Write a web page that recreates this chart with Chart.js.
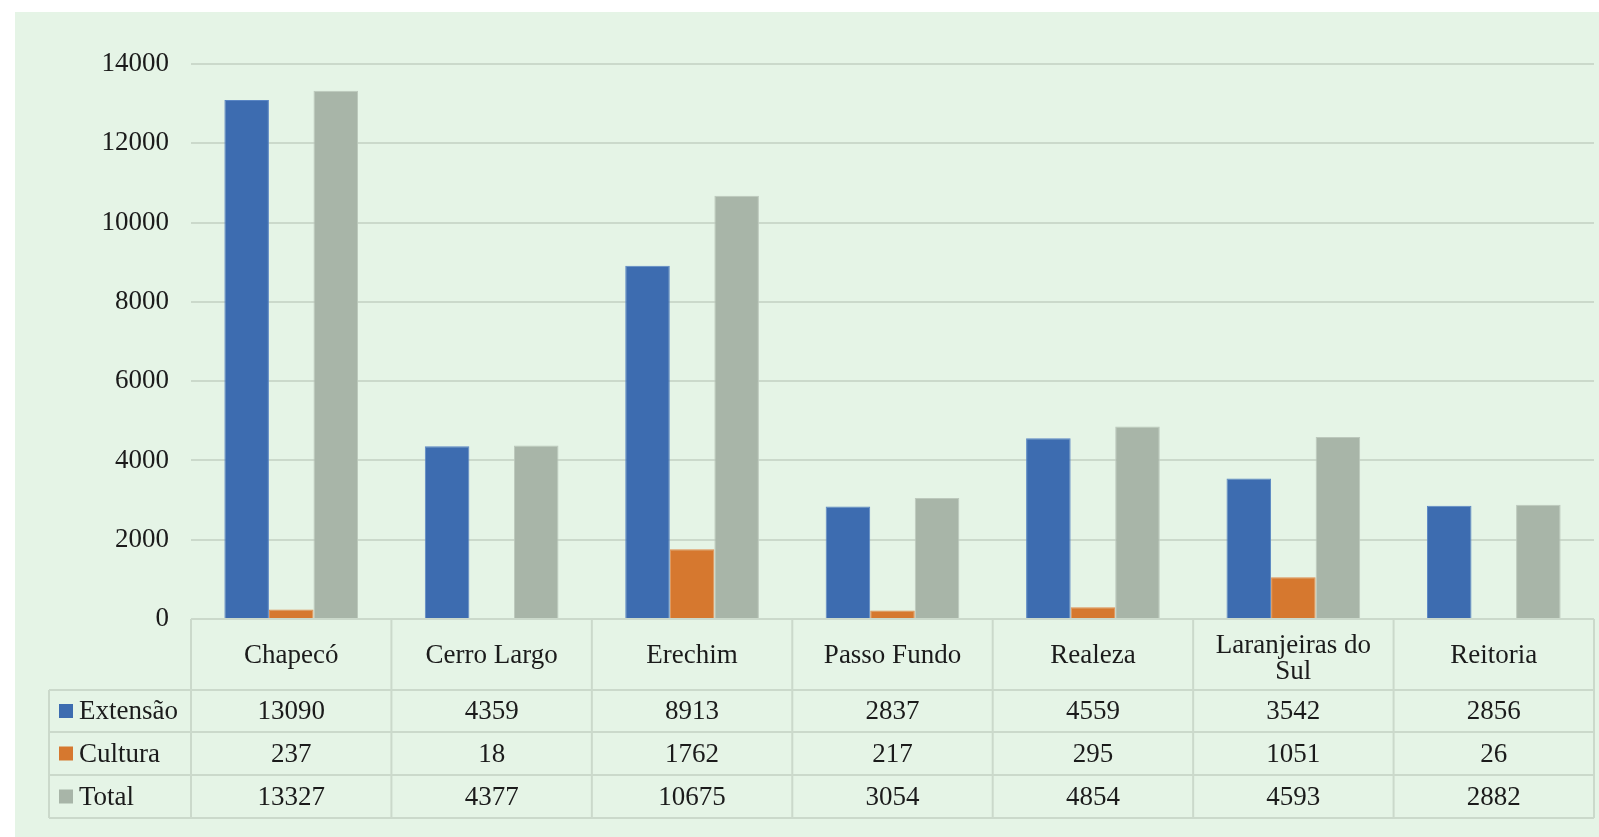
<!DOCTYPE html>
<html lang="pt">
<head>
<meta charset="UTF-8">
<title>Extensão e Cultura por campus</title>
<script src="https://cdn.jsdelivr.net/npm/chart.js"></script>
<style>
  html, body { margin: 0; padding: 0; background: #ffffff; }
  #wrap { width: 1599px; height: 837px; position: relative; }
</style>
</head>
<body>
<div id="wrap"><canvas id="chart"></canvas></div>
<script>
// data
const campi = ['Chapecó', 'Cerro Largo', 'Erechim', 'Passo Fundo', 'Realeza', ['Laranjeiras do', 'Sul'], 'Reitoria'];
const extensao = [13090, 4359, 8913, 2837, 4559, 3542, 2856];
const cultura = [237, 18, 1762, 217, 295, 1051, 26];
const total = [13327, 4377, 10675, 3054, 4854, 4593, 2882];
const yTicks = [0, 2000, 4000, 6000, 8000, 10000, 12000, 14000];

const FONT = '"Liberation Serif", "Times New Roman", serif';
const TEXT = '#1b1b1b';
const LINE = '#cbd9cb';

const pageBg = {
  id: 'pageBg',
  beforeDraw(chart) {
    const c = chart.ctx;
    c.save();
    c.fillStyle = '#ffffff';
    c.fillRect(0, 0, chart.width, chart.height);
    c.fillStyle = '#e5f4e6';
    c.fillRect(15, 12, chart.width - 15, chart.height - 12);
    c.restore();
  }
};

// data table under the bars, placed with the x scale
const dataTable = {
  id: 'dataTable',
  afterDraw(chart) {
    const c = chart.ctx;
    const x = chart.scales.x;
    const area = chart.chartArea;
    const n = campi.length;
    const step = (area.right - area.left) / n;
    const top = area.bottom;
    const rows = [top, top + 71, top + 113, top + 156, top + 199];
    const legLeft = 49;

    c.save();
    c.strokeStyle = LINE;
    c.lineWidth = 2;
    c.beginPath();
    c.moveTo(area.left, rows[0]); c.lineTo(area.right, rows[0]);
    for (let r = 1; r < rows.length; r++) {
      c.moveTo(legLeft, rows[r]); c.lineTo(area.right, rows[r]);
    }
    c.moveTo(legLeft, rows[1]); c.lineTo(legLeft, rows[4]);
    for (let i = 0; i <= n; i++) {
      const px = area.left + i * step;
      c.moveTo(px, rows[0]); c.lineTo(px, rows[4]);
    }
    c.stroke();

    c.fillStyle = TEXT;
    c.font = '27px ' + FONT;
    c.textAlign = 'center';
    c.textBaseline = 'middle';
    // header row
    campi.forEach((lab, i) => {
      const cx = x.getPixelForValue(i);
      const cy = (rows[0] + rows[1]) / 2 + 1;
      if (Array.isArray(lab)) {
        const lh = 26;
        lab.forEach((t, k) => c.fillText(t, cx, cy + 3 + (k - (lab.length - 1) / 2) * lh));
      } else {
        c.fillText(lab, cx, cy);
      }
    });
    // value rows + legend keys
    chart.data.datasets.forEach((ds, r) => {
      const cy = (rows[r + 1] + rows[r + 2]) / 2 + 1;
      c.textAlign = 'center';
      c.fillStyle = TEXT;
      ds.data.forEach((v, i) => c.fillText(String(v), x.getPixelForValue(i), cy));
      c.fillStyle = ds.backgroundColor;
      c.fillRect(59, cy - 8, 14, 14);
      c.fillStyle = TEXT;
      c.textAlign = 'left';
      c.fillText(ds.label, 79, cy);
    });
    c.restore();
  }
};

new Chart(document.getElementById('chart'), {
  type: 'bar',
  data: {
    labels: campi,
    datasets: [
      { label: 'Extensão', data: extensao, backgroundColor: '#3d6cb0', borderColor: '#5a86c4', borderWidth: 1 },
      { label: 'Cultura', data: cultura, backgroundColor: '#d6782f', borderColor: '#e08d4e', borderWidth: 1 },
      { label: 'Total', data: total, backgroundColor: '#a8b5a8', borderColor: '#bcc8bc', borderWidth: 1 }
    ]
  },
  options: {
    responsive: true,
    maintainAspectRatio: false,
    animation: false,
    layout: { padding: { left: 0, top: 64, right: 5, bottom: 218 } },
    plugins: { legend: { display: false }, tooltip: { enabled: false } },
    datasets: { bar: { categoryPercentage: 0.667, barPercentage: 1 } },
    scales: {
      x: { display: false },
      y: {
        min: 0,
        max: 14000,
        afterFit(s) { s.width = 191; },
        afterBuildTicks(s) { s.ticks = yTicks.map(v => ({ value: v })); },
        border: { display: false },
        grid: {
          color: ctx => ctx.tick.value === 0 ? 'rgba(0,0,0,0)' : LINE,
          lineWidth: 2,
          drawTicks: false
        },
        ticks: {
          padding: 22,
          color: TEXT,
          font: { family: FONT, size: 27 },
          callback: v => String(v)
        }
      }
    }
  },
  plugins: [pageBg, dataTable]
});
</script>
</body>
</html>
